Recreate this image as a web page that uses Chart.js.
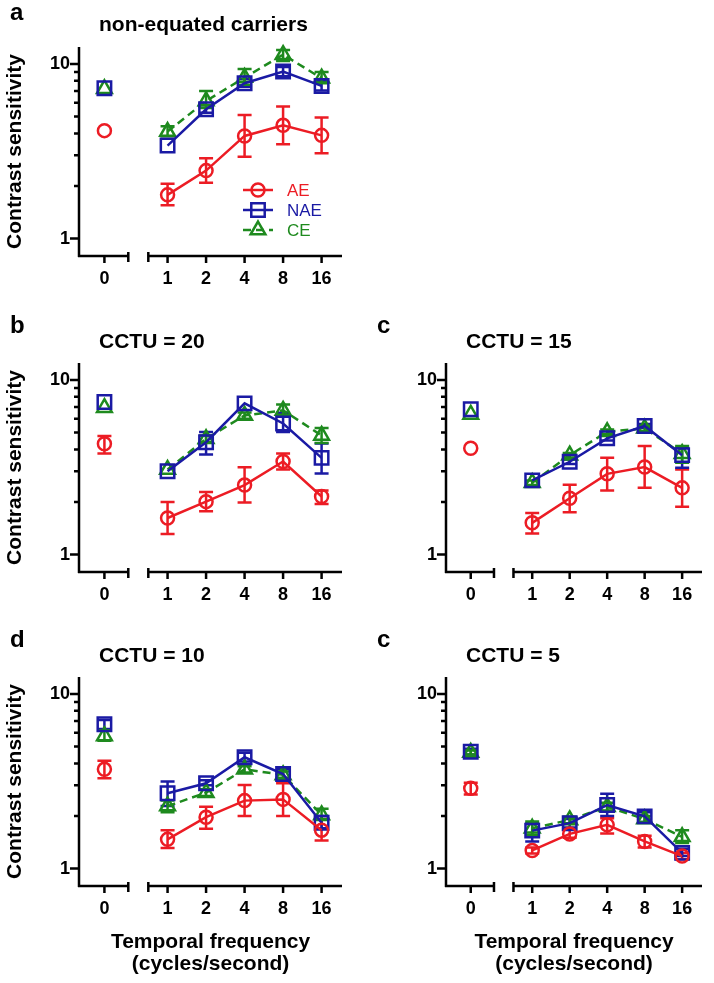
<!DOCTYPE html>
<html>
<head>
<meta charset="utf-8">
<script src="https://cdn.jsdelivr.net/npm/chart.js@4.4.1/dist/chart.umd.min.js"></script>
<style>
    body { margin: 0; background: #fff; }
    #page { position: relative; width: 714px; height: 983px; }
    canvas { position: absolute; }
</style>
</head>
<body>
<div id="page">
    <canvas id="pa" width="357" height="300" style="left:0;top:0"></canvas>
    <canvas id="pb" width="357" height="330" style="left:0;top:300px"></canvas>
    <canvas id="pc" width="357" height="330" style="left:357px;top:300px"></canvas>
    <canvas id="pd" width="357" height="353" style="left:0;top:630px"></canvas>
    <canvas id="pe" width="357" height="353" style="left:357px;top:630px"></canvas>
</div>
<script>
// temporal frequencies (cycles/second); 0 = static, drawn on its own axis piece
const freqs = [0, 1, 2, 4, 8, 16];
const freqLabels = ["0", "1", "2", "4", "8", "16"];
const yTickValues = [1, 2, 3, 4, 5, 6, 7, 8, 9, 10];

// a: non-equated carriers
const aAE = [4.15, 1.78, 2.45, 3.87, 4.45, 3.9];
const aAELo = [4.15, 1.55, 2.09, 2.94, 3.47, 3.08];
const aAEHi = [4.15, 2.06, 2.88, 5.1, 5.7, 4.93];
const aNAE = [7.26, 3.41, 5.5, 7.75, 9.04, 7.48];
const aNAELo = [7.26, 3.41, 5.25, 7.4, 8.5, 7.05];
const aNAEHi = [7.26, 3.41, 5.8, 8.2, 9.6, 8.0];
const aCE = [7.2, 4.1, 6.14, 8.35, 11.3, 8.28];
const aCELo = [7.2, 3.85, 5.6, 7.6, 10.4, 7.75];
const aCEHi = [7.2, 4.4, 7.0, 9.36, 12.0, 9.0];

// b: CCTU = 20
const bAE = [4.31, 1.62, 2.01, 2.5, 3.41, 2.15];
const bAELo = [3.79, 1.31, 1.77, 1.99, 3.07, 1.95];
const bAEHi = [4.77, 2.0, 2.28, 3.16, 3.79, 2.33];
const bNAE = [7.47, 3.0, 4.4, 7.34, 5.63, 3.58];
const bNAELo = [7.47, 3.0, 3.74, 7.34, 5.03, 2.91];
const bNAEHi = [7.47, 3.0, 5.03, 7.34, 6.49, 4.33];
const bCE = [6.93, 3.07, 4.6, 6.26, 6.69, 4.81];
const bCELo = [6.93, 3.07, 4.4, 6.0, 6.15, 4.36];
const bCEHi = [6.93, 3.07, 4.8, 6.5, 7.24, 5.3];

// c: CCTU = 15
const cAE = [4.06, 1.52, 2.1, 2.9, 3.17, 2.41];
const cAELo = [4.06, 1.32, 1.75, 2.33, 2.41, 1.88];
const cAEHi = [4.06, 1.73, 2.51, 3.58, 4.18, 3.07];
const cNAE = [6.79, 2.66, 3.4, 4.63, 5.45, 3.71];
const cNAELo = [6.79, 2.66, 3.3, 4.5, 5.3, 3.14];
const cNAEHi = [6.79, 2.66, 3.5, 4.8, 5.6, 4.09];
const cCE = [6.35, 2.58, 3.71, 5.05, 5.28, 3.78];
const cCELo = [6.35, 2.5, 3.6, 4.9, 5.1, 3.36];
const cCEHi = [6.35, 2.66, 3.82, 5.2, 5.45, 4.18];

// d: CCTU = 10
const dAE = [3.7, 1.47, 1.97, 2.45, 2.49, 1.66];
const dAELo = [3.29, 1.31, 1.69, 2.0, 2.0, 1.45];
const dAEHi = [4.15, 1.66, 2.26, 3.01, 3.08, 1.92];
const dNAE = [6.7, 2.7, 3.08, 4.34, 3.48, 1.83];
const dNAELo = [6.3, 2.28, 3.0, 4.1, 3.3, 1.7];
const dNAEHi = [7.1, 3.15, 3.2, 4.6, 3.7, 2.0];
const dCE = [5.75, 2.28, 2.72, 3.7, 3.44, 2.03];
const dCELo = [5.4, 2.1, 2.6, 3.55, 3.3, 1.9];
const dCEHi = [6.2, 2.45, 2.85, 3.85, 3.6, 2.2];

// e: CCTU = 5
const eAE = [2.88, 1.27, 1.58, 1.78, 1.43, 1.18];
const eAELo = [2.66, 1.22, 1.5, 1.59, 1.32, 1.13];
const eAEHi = [3.1, 1.32, 1.68, 1.94, 1.54, 1.23];
const eNAE = [4.67, 1.65, 1.82, 2.31, 1.99, 1.23];
const eNAELo = [4.5, 1.43, 1.72, 2.0, 1.85, 1.18];
const eNAEHi = [4.85, 1.82, 1.92, 2.68, 2.1, 1.3];
const eCE = [4.62, 1.7, 1.9, 2.26, 1.92, 1.52];
const eCELo = [4.5, 1.56, 1.82, 2.15, 1.85, 1.4];
const eCEHi = [4.75, 1.86, 1.98, 2.38, 2.0, 1.66];

const RED = "#ec1c24", BLUE = "#1a1aa4", GREEN = "#1e8a1e";
const FONT = "'Liberation Sans', Arial, sans-serif";
const LW = 2.5;

// x positions: log2 of frequency, static condition set to the left of the break
const ZERO_POS = -1.64, BREAK_L = -1.02, BREAK_R = -0.5, X_MIN = -2.3, X_MAX = 4.53;
function xPos(f) { return f === 0 ? ZERO_POS : Math.log2(f); }

function series(label, vals, lo, hi, color, style, radius, dash) {
    return {
        label: label,
        data: vals.map((v, i) => ({ x: xPos(freqs[i]), y: v })),
        lo: lo,
        hi: hi,
        borderColor: color,
        backgroundColor: "rgba(0,0,0,0)",
        borderWidth: LW,
        borderDash: dash || [],
        pointStyle: style,
        pointRadius: radius,
        pointHoverRadius: radius,
        pointBorderWidth: LW,
        pointBorderColor: color,
        pointBackgroundColor: "rgba(0,0,0,0)",
        tension: 0,
        clip: false,
        // no line between the static point and 1 c/s
        segment: { borderColor: c => (c.p0DataIndex === 0 ? "rgba(0,0,0,0)" : undefined) },
    };
}

const errorBars = {
    id: "errorBars",
    beforeDatasetsDraw(chart) {
        const ctx = chart.ctx, ys = chart.scales.y;
        chart.data.datasets.forEach((d, i) => {
            const meta = chart.getDatasetMeta(i);
            ctx.save();
            ctx.strokeStyle = d.borderColor;
            ctx.lineWidth = LW;
            ctx.beginPath();
            meta.data.forEach((pt, j) => {
                const yl = ys.getPixelForValue(d.lo[j]);
                const yh = ys.getPixelForValue(d.hi[j]);
                if (Math.abs(yl - yh) < 1) return;
                ctx.moveTo(pt.x, yl); ctx.lineTo(pt.x, yh);
                ctx.moveTo(pt.x - 7, yl); ctx.lineTo(pt.x + 7, yl);
                ctx.moveTo(pt.x - 7, yh); ctx.lineTo(pt.x + 7, yh);
            });
            ctx.stroke();
            ctx.restore();
        });
    },
};

const brokenAxes = {
    id: "brokenAxes",
    afterDraw(chart) {
        const ctx = chart.ctx, a = chart.chartArea;
        const xs = chart.scales.x, ys = chart.scales.y;
        const y0 = a.bottom;
        const bl = xs.getPixelForValue(BREAK_L), br = xs.getPixelForValue(BREAK_R);
        ctx.save();
        ctx.strokeStyle = "#000";
        ctx.lineWidth = 2.5;
        ctx.beginPath();
        ctx.moveTo(a.left, a.top); ctx.lineTo(a.left, y0 + 1);
        ys.ticks.forEach(t => {
            const y = ys.getPixelForValue(t.value);
            const len = (t.value === 1 || t.value === 10) ? 9 : 5;
            ctx.moveTo(a.left - len, y); ctx.lineTo(a.left, y);
        });
        ctx.moveTo(a.left - 1, y0); ctx.lineTo(bl, y0);
        ctx.moveTo(br, y0); ctx.lineTo(a.right, y0);
        ctx.moveTo(bl, y0 - 4); ctx.lineTo(bl, y0 + 6);
        ctx.moveTo(br, y0 - 4); ctx.lineTo(br, y0 + 6);
        xs.ticks.forEach(t => {
            const x = xs.getPixelForValue(t.value);
            ctx.moveTo(x, y0); ctx.lineTo(x, y0 + 7);
        });
        ctx.stroke();
        ctx.restore();
    },
};

function drawMarker(ctx, style, r, x, y) {
    if (Chart.helpers && Chart.helpers.drawPoint) {
        Chart.helpers.drawPoint(ctx, { pointStyle: style, radius: r, borderWidth: LW, rotation: 0 }, x, y);
    }
}

const panelText = {
    id: "panelText",
    afterDraw(chart, args, o) {
        const ctx = chart.ctx, a = chart.chartArea;
        ctx.save();
        ctx.fillStyle = "#000";
        ctx.textBaseline = "alphabetic";
        ctx.textAlign = "left";
        ctx.font = "bold 24px " + FONT;
        ctx.fillText(o.letter, o.letterX, o.letterY);
        ctx.font = "bold 21px " + FONT;
        ctx.fillText(o.title, a.left + 20, o.titleY);
        if (o.yTitle) {
            ctx.save();
            ctx.translate(15, (a.top + a.bottom) / 2);
            ctx.rotate(-Math.PI / 2);
            ctx.textAlign = "center";
            ctx.textBaseline = "middle";
            ctx.fillText("Contrast sensitivity", 0, 0);
            ctx.restore();
        }
        if (o.xTitle) {
            ctx.textAlign = "center";
            const cx = (a.left + a.right) / 2;
            ctx.fillText("Temporal frequency", cx, a.bottom + 62);
            ctx.fillText("(cycles/second)", cx, a.bottom + 84);
        }
        if (o.legend) {
            const ds = chart.data.datasets;
            ds.forEach((d, i) => {
                const y = a.top + 143 + i * 20;
                const x = a.left + 179;
                ctx.strokeStyle = d.borderColor;
                ctx.fillStyle = "rgba(0,0,0,0)";
                ctx.lineWidth = LW;
                ctx.setLineDash(d.borderDash);
                ctx.beginPath();
                ctx.moveTo(x - 15, y); ctx.lineTo(x + 15, y);
                ctx.stroke();
                ctx.setLineDash([]);
                drawMarker(ctx, d.pointStyle, d.pointRadius, x, y);
                ctx.fillStyle = d.borderColor;
                ctx.font = "17px " + FONT;
                ctx.textAlign = "left";
                ctx.textBaseline = "middle";
                ctx.fillText(d.label, x + 29, y + 1);
            });
        }
        ctx.restore();
    },
};

function makePanel(id, ae, nae, ce, text, box) {
    new Chart(document.getElementById(id).getContext("2d"), {
        type: "line",
        data: {
            datasets: [
                series("AE", ae[0], ae[1], ae[2], RED, "circle", 6.5),
                series("NAE", nae[0], nae[1], nae[2], BLUE, "rect", 9.5),
                series("CE", ce[0], ce[1], ce[2], GREEN, "triangle", 8.5, [8, 5]),
            ],
        },
        options: {
            responsive: false,
            animation: false,
            events: [],
            layout: { padding: { left: 0, right: box.right, top: box.top, bottom: 0 } },
            plugins: { legend: { display: false }, tooltip: { enabled: false }, panelText: text },
            scales: {
                x: {
                    type: "linear",
                    min: X_MIN,
                    max: X_MAX,
                    afterBuildTicks: s => { s.ticks = freqs.map(f => ({ value: xPos(f) })); },
                    afterFit: s => { s.height = box.xh; },
                    border: { display: false },
                    grid: { display: false, drawTicks: false },
                    ticks: {
                        autoSkip: false,
                        maxRotation: 0,
                        padding: 12,
                        color: "#000",
                        font: { family: FONT, size: 18, weight: "bold" },
                        callback: (v, i) => freqLabels[i],
                    },
                },
                y: {
                    type: "logarithmic",
                    min: 0.795,
                    max: 12.5,
                    afterBuildTicks: s => { s.ticks = yTickValues.map(v => ({ value: v })); },
                    afterFit: s => { s.width = box.yw; },
                    border: { display: false },
                    grid: { display: false, drawTicks: false },
                    ticks: {
                        autoSkip: false,
                        padding: 9,
                        color: "#000",
                        font: { family: FONT, size: 18, weight: "bold" },
                        callback: v => (v === 1 || v === 10 ? String(v) : ""),
                    },
                },
            },
        },
        plugins: [errorBars, brokenAxes, panelText],
    });
}

document.addEventListener("DOMContentLoaded", function () {
    makePanel("pa", [aAE, aAELo, aAEHi], [aNAE, aNAELo, aNAEHi], [aCE, aCELo, aCEHi],
        { letter: "a", letterX: 10, letterY: 20, title: "non-equated carriers", titleY: 31, yTitle: true, legend: true },
        { right: 15, top: 47, xh: 44, yw: 79 });
    makePanel("pb", [bAE, bAELo, bAEHi], [bNAE, bNAELo, bNAEHi], [bCE, bCELo, bCEHi],
        { letter: "b", letterX: 10, letterY: 33, title: "CCTU = 20", titleY: 48, yTitle: true },
        { right: 15, top: 63, xh: 58, yw: 79 });
    makePanel("pc", [cAE, cAELo, cAEHi], [cNAE, cNAELo, cNAEHi], [cCE, cCELo, cCEHi],
        { letter: "c", letterX: 20, letterY: 33, title: "CCTU = 15", titleY: 48 },
        { right: 6, top: 63, xh: 58, yw: 89 });
    makePanel("pd", [dAE, dAELo, dAEHi], [dNAE, dNAELo, dNAEHi], [dCE, dCELo, dCEHi],
        { letter: "d", letterX: 10, letterY: 17, title: "CCTU = 10", titleY: 32, yTitle: true, xTitle: true },
        { right: 15, top: 47, xh: 97, yw: 79 });
    makePanel("pe", [eAE, eAELo, eAEHi], [eNAE, eNAELo, eNAEHi], [eCE, eCELo, eCEHi],
        { letter: "c", letterX: 20, letterY: 17, title: "CCTU = 5", titleY: 32, xTitle: true },
        { right: 6, top: 47, xh: 97, yw: 89 });
});
</script>
</body>
</html>
